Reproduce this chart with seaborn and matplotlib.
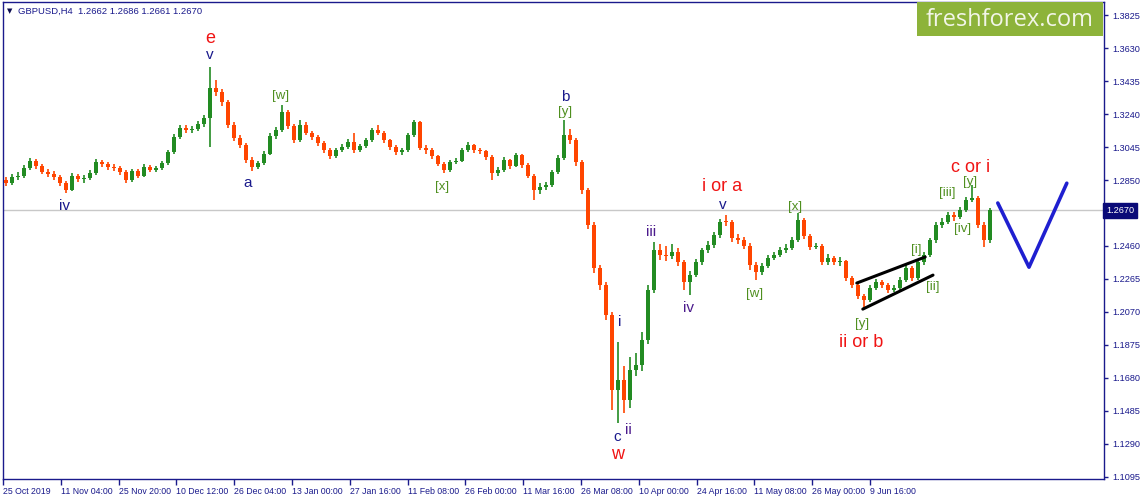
import matplotlib
matplotlib.use("Agg")
import matplotlib.pyplot as plt
import matplotlib.transforms as mtransforms
from matplotlib.patches import Rectangle
import seaborn as sns
import numpy as np

# GBPUSD H4 (compressed to one candle per ~day)
first_open = 1.2850
closes = [1.2832, 1.2868, 1.2874, 1.2921, 1.2962, 1.2933, 1.2897, 1.2885, 1.2868, 1.2832,
          1.2791, 1.2874, 1.2856, 1.2862, 1.2891, 1.2956, 1.2944, 1.2927, 1.2921, 1.2897,
          1.2850, 1.2903, 1.2874, 1.2927, 1.2909, 1.2921, 1.2950, 1.3015, 1.3104, 1.3158,
          1.3145, 1.3152, 1.3181, 1.3216, 1.3394, 1.3370, 1.3311, 1.3175, 1.3098, 1.3057,
          1.2968, 1.2927, 1.2950, 1.3004, 1.3110, 1.3145, 1.3252, 1.3170, 1.3086, 1.3175,
          1.3128, 1.3104, 1.3069, 1.3027, 1.2992, 1.3027, 1.3045, 1.3074, 1.3027, 1.3051,
          1.3086, 1.3145, 1.3128, 1.3086, 1.3045, 1.3015, 1.3027, 1.3116, 1.3193, 1.3039,
          1.3027, 1.2992, 1.2944, 1.2909, 1.2956, 1.2962, 1.3027, 1.3057, 1.3027, 1.3021,
          1.2986, 1.2891, 1.2909, 1.2968, 1.2933, 1.2998, 1.2939, 1.2874, 1.2791, 1.2809,
          1.2820, 1.2897, 1.2980, 1.3116, 1.3086, 1.2956, 1.2791, 1.2584, 1.2330, 1.2230,
          1.2052, 1.1609, 1.1668, 1.1550, 1.1727, 1.1757, 1.1904, 1.2200, 1.2436, 1.2407,
          1.2401, 1.2425, 1.2365, 1.2247, 1.2289, 1.2365, 1.2436, 1.2466, 1.2525, 1.2602,
          1.2600, 1.2507, 1.2496, 1.2460, 1.2348, 1.2306, 1.2342, 1.2389, 1.2407, 1.2436,
          1.2448, 1.2496, 1.2614, 1.2519, 1.2454, 1.2460, 1.2365, 1.2389, 1.2365, 1.2372,
          1.2271, 1.2230, 1.2164, 1.2141, 1.2212, 1.2247, 1.2230, 1.2200, 1.2212, 1.2259,
          1.2330, 1.2271, 1.2365, 1.2407, 1.2496, 1.2584, 1.2602, 1.2643, 1.2631, 1.2673,
          1.2732, 1.2744, 1.2584, 1.2496, 1.2670]
highs = [1.2868, 1.2885, 1.2897, 1.2940, 1.2980, 1.2975, 1.2945, 1.2915, 1.2905, 1.2880,
         1.2845, 1.2890, 1.2888, 1.2880, 1.2910, 1.2975, 1.2970, 1.2955, 1.2945, 1.2935,
         1.2910, 1.2915, 1.2915, 1.2945, 1.2940, 1.2935, 1.2965, 1.3030, 1.3120, 1.3175,
         1.3175, 1.3170, 1.3200, 1.3235, 1.3518, 1.3440, 1.3390, 1.3325, 1.3190, 1.3115,
         1.3070, 1.2985, 1.2965, 1.3020, 1.3125, 1.3165, 1.3293, 1.3265, 1.3180, 1.3205,
         1.3190, 1.3140, 1.3115, 1.3080, 1.3040, 1.3040, 1.3060, 1.3090, 1.3128, 1.3065,
         1.3100, 1.3160, 1.3175, 1.3140, 1.3095, 1.3055, 1.3040, 1.3130, 1.3205, 1.3200,
         1.3055, 1.3040, 1.3000, 1.2955, 1.2970, 1.2980, 1.3040, 1.3074, 1.3065, 1.3040,
         1.3030, 1.2995, 1.2925, 1.2986, 1.2975, 1.3010, 1.3005, 1.2950, 1.2885, 1.2830,
         1.2840, 1.2910, 1.2995, 1.3205, 1.3150, 1.3100, 1.2970, 1.2800, 1.2600, 1.2350,
         1.2250, 1.2070, 1.1893, 1.1750, 1.1804, 1.1830, 1.1950, 1.2230, 1.2484, 1.2470,
         1.2460, 1.2470, 1.2450, 1.2380, 1.2310, 1.2385, 1.2450, 1.2490, 1.2545, 1.2620,
         1.2643, 1.2615, 1.2530, 1.2515, 1.2475, 1.2365, 1.2360, 1.2405, 1.2425, 1.2455,
         1.2470, 1.2515, 1.2655, 1.2625, 1.2530, 1.2480, 1.2470, 1.2410, 1.2400, 1.2395,
         1.2380, 1.2285, 1.2240, 1.2175, 1.2230, 1.2265, 1.2260, 1.2240, 1.2230, 1.2275,
         1.2350, 1.2340, 1.2380, 1.2425, 1.2510, 1.2600, 1.2625, 1.2660, 1.2660, 1.2690,
         1.2750, 1.2820, 1.2755, 1.2600, 1.2686]
lows = [1.2815, 1.2820, 1.2850, 1.2862, 1.2910, 1.2915, 1.2885, 1.2870, 1.2850, 1.2815,
        1.2775, 1.2785, 1.2838, 1.2835, 1.2850, 1.2880, 1.2925, 1.2910, 1.2905, 1.2880,
        1.2835, 1.2840, 1.2860, 1.2865, 1.2895, 1.2895, 1.2910, 1.2940, 1.3005, 1.3095,
        1.3130, 1.3130, 1.3140, 1.3165, 1.3045, 1.3345, 1.3290, 1.3160, 1.3080, 1.3040,
        1.2950, 1.2905, 1.2915, 1.2940, 1.2995, 1.3095, 1.3135, 1.3150, 1.3070, 1.3075,
        1.3115, 1.3085, 1.3050, 1.3010, 1.2975, 1.2980, 1.3015, 1.3035, 1.3010, 1.3015,
        1.3040, 1.3075, 1.3115, 1.3070, 1.3030, 1.3000, 1.3000, 1.3015, 1.3105, 1.3025,
        1.3005, 1.2975, 1.2930, 1.2890, 1.2900, 1.2945, 1.2955, 1.3015, 1.3010, 1.3005,
        1.2970, 1.2850, 1.2875, 1.2900, 1.2915, 1.2925, 1.2920, 1.2860, 1.2732, 1.2770,
        1.2790, 1.2810, 1.2885, 1.2970, 1.3060, 1.2935, 1.2770, 1.2560, 1.2300, 1.2200,
        1.2020, 1.1491, 1.1414, 1.1473, 1.1500, 1.1690, 1.1720, 1.1880, 1.2180, 1.2380,
        1.2370, 1.2385, 1.2340, 1.2200, 1.2170, 1.2275, 1.2350, 1.2420, 1.2450, 1.2510,
        1.2580, 1.2485, 1.2470, 1.2440, 1.2320, 1.2259, 1.2290, 1.2330, 1.2375, 1.2395,
        1.2420, 1.2435, 1.2485, 1.2500, 1.2435, 1.2440, 1.2345, 1.2350, 1.2345, 1.2340,
        1.2255, 1.2210, 1.2145, 1.2093, 1.2130, 1.2200, 1.2210, 1.2185, 1.2190, 1.2200,
        1.2245, 1.2255, 1.2260, 1.2350, 1.2395, 1.2480, 1.2565, 1.2590, 1.2610, 1.2620,
        1.2660, 1.2720, 1.2565, 1.2454, 1.2480]

date_labels = ["25 Oct 2019", "11 Nov 04:00", "25 Nov 20:00", "10 Dec 12:00", "26 Dec 04:00",
               "13 Jan 00:00", "27 Jan 16:00", "11 Feb 08:00", "26 Feb 00:00", "11 Mar 16:00",
               "26 Mar 08:00", "10 Apr 00:00", "24 Apr 16:00", "11 May 08:00", "26 May 00:00",
               "9 Jun 16:00"]
price_ticks = [1.1095, 1.1290, 1.1485, 1.1680, 1.1875, 1.2070, 1.2265, 1.2460, 1.2655,
               1.2850, 1.3045, 1.3240, 1.3435, 1.3630, 1.3825]

# forecast zigzag and wedge drawn by the analyst (candle index, price)
forecast_x = [165.3, 170.5, 176.8]
forecast_y = [1.2714, 1.2335, 1.2831]
wedge_upper_x = [141.8, 153.2]
wedge_upper_y = [1.2241, 1.2395]
wedge_lower_x = [142.8, 154.5]
wedge_lower_y = [1.2087, 1.2288]

RED = "#f01414"
NAVY = "#1a1a8c"
PURPLE = "#4b1a8c"
GREEN = "#4f8f1f"
wave_labels = [
    ("e", 34, 1.3689, RED, 13), ("v", 34, 1.3589, NAVY, 11),
    ("[w]", 45.7, 1.3346, GREEN, 9.5), ("a", 40.2, 1.2832, NAVY, 11),
    ("iv", 9.8, 1.2696, NAVY, 11), ("[x]", 72.7, 1.2809, GREEN, 9.5),
    ("b", 93.2, 1.3340, NAVY, 11), ("[y]", 93.2, 1.3252, GREEN, 9.5),
    ("iii", 107.5, 1.2543, PURPLE, 11), ("i", 102.3, 1.2011, NAVY, 11),
    ("ii", 103.7, 1.1373, PURPLE, 11), ("c", 101.8, 1.1332, NAVY, 11),
    ("w", 102.0, 1.1225, RED, 13), ("i or a", 119.3, 1.2809, RED, 13),
    ("v", 119.5, 1.2702, NAVY, 11), ("[x]", 131.5, 1.2690, GREEN, 9.5),
    ("[w]", 124.7, 1.2176, GREEN, 9.5), ("iv", 113.8, 1.2093, PURPLE, 11),
    ("[y]", 142.7, 1.1999, GREEN, 9.5), ("ii or b", 142.5, 1.1887, RED, 13),
    ("c or i", 160.7, 1.2921, RED, 13), ("[y]", 160.7, 1.2838, GREEN, 9.5),
    ("[iii]", 156.8, 1.2773, GREEN, 9.5), ("[iv]", 159.5, 1.2560, GREEN, 9.5),
    ("[i]", 151.7, 1.2436, GREEN, 9.5), ("[ii]", 154.5, 1.2217, GREEN, 9.5),
]

sns.set_style("white")
plt.rcParams["font.family"] = ["Liberation Sans", "DejaVu Sans"]

W, H = 1145, 500
fig = plt.figure(figsize=(W / 100, H / 100), dpi=100)
ax = fig.add_axes([3 / W, 21 / H, 1101 / W, 477 / H])

c = np.array(closes)
o = np.concatenate([[first_open], c[:-1]])
hi = np.array(highs)
lo = np.array(lows)
idx = np.arange(len(c))
colors = np.where(c > o, "#228b22", np.where(c < o, "#ff4500", "#000000"))

ax.vlines(idx, lo, hi, colors=colors, lw=1.2, zorder=2)
body = np.maximum(np.abs(c - o), 0.0005)
ax.bar(idx, body, bottom=np.minimum(o, c), width=0.7, color=colors, linewidth=0, zorder=3)

ax.axhline(c[-1], color="#c8c8c8", lw=1, zorder=1)

sns.lineplot(x=forecast_x, y=forecast_y, ax=ax, color="#1f1fd0", lw=2.6, sort=False, estimator=None)
ax.plot(wedge_upper_x, wedge_upper_y, color="black", lw=2.2, zorder=4)
ax.plot(wedge_lower_x, wedge_lower_y, color="black", lw=2.2, zorder=4)

for txt, x, y, col, fs in wave_labels:
    ax.text(x, y, txt, color=col, fontsize=fs, ha="center", va="center", zorder=5)

ax.set_xlim(-0.5, 183.0)
ax.set_ylim(1.1083, 1.3902)

tick_step = 57.8 / 6
ax.set_xticks(np.arange(len(date_labels)) * tick_step - 0.5)
ax.set_xticklabels(date_labels, fontsize=6.3, color=NAVY, ha="left")
shift = mtransforms.ScaledTranslation(2 / 100, 0, fig.dpi_scale_trans)
for lbl in ax.get_xticklabels():
    lbl.set_transform(lbl.get_transform() + shift)

ax.yaxis.tick_right()
ax.set_yticks(price_ticks)
ax.set_yticklabels(["" if abs(p - 1.2655) < 1e-6 else f"{p:.4f}" for p in price_ticks],
                   fontsize=6.6, color=NAVY)
ax.tick_params(axis="x", direction="out", length=4, width=1, color=NAVY, pad=2, bottom=True)
ax.tick_params(axis="y", direction="out", length=3, width=1, color=NAVY, pad=3, right=True, left=False)
for sp in ax.spines.values():
    sp.set_color(NAVY)
    sp.set_linewidth(1)
    sp.set_visible(True)

ax.text(1.002, c[-1], f"{c[-1]:.4f}", transform=ax.get_yaxis_transform(), fontsize=6.6,
        color="white", va="center", ha="left",
        bbox=dict(boxstyle="square,pad=0.3", fc="#0a0a78", ec="#0a0a78"))

fig.text(10 / W, 1 - 11 / H, "▼", fontsize=5, color="#0a0a50", va="center", ha="center",
         family=["DejaVu Sans"])
fig.text(18 / W, 1 - 11 / H, "GBPUSD,H4  1.2662 1.2686 1.2661 1.2670", fontsize=6.8,
         color=NAVY, va="center", ha="left")

fig.add_artist(Rectangle((917 / W, 1 - 36 / H), 186 / W, 34 / H, transform=fig.transFigure,
                         facecolor="#8db33a", edgecolor="none", zorder=6))
fig.text(1010 / W, 1 - 19.5 / H, "freshforex.com", fontsize=17, color="#f2f5e8",
         va="center", ha="center", zorder=7, family=["Open Sans", "DejaVu Sans"])

fig.savefig("out.png", dpi=100, facecolor="white")
